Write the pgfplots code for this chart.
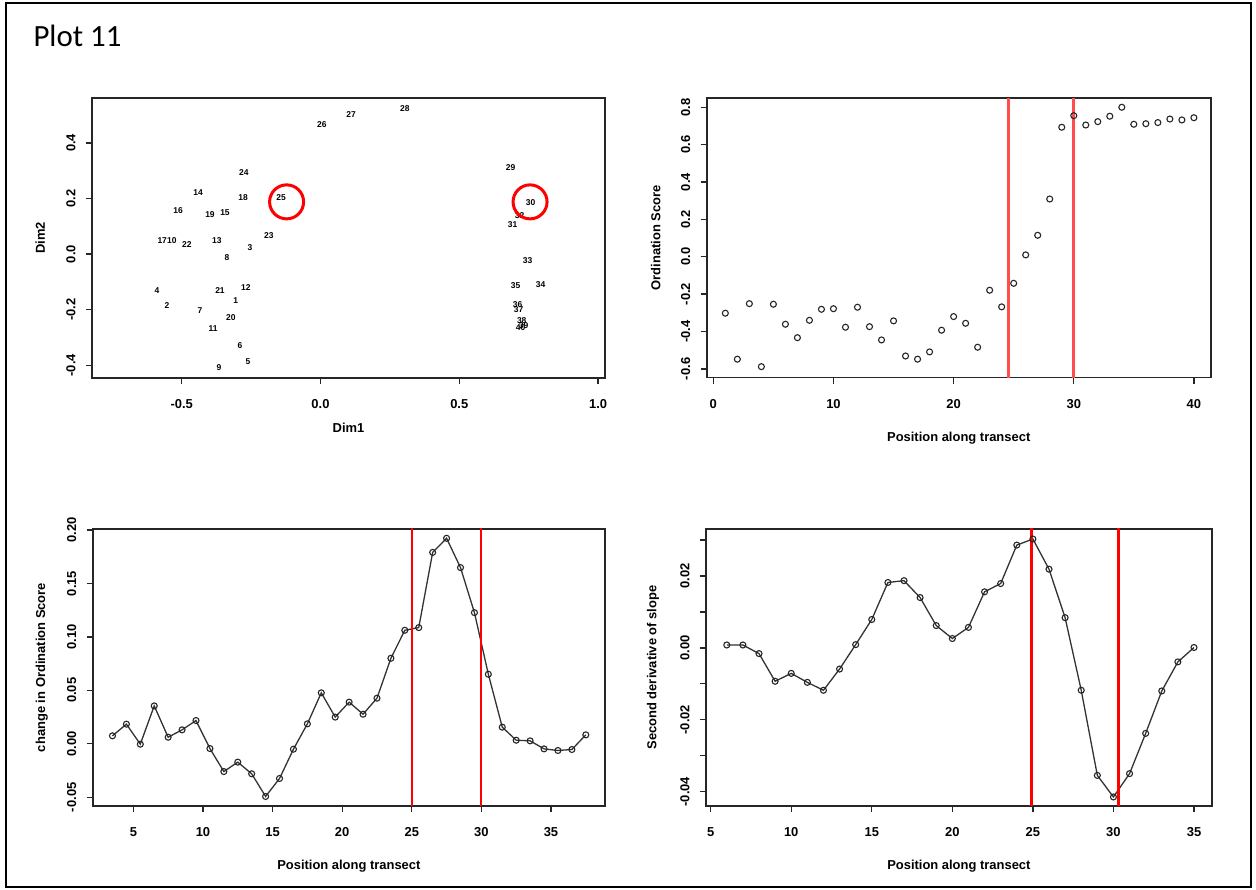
\documentclass[border=0pt]{standalone}
\usepackage{fontspec}
\setmainfont{Liberation Sans}
\newfontfamily\carlito{Carlito}
\usepackage{pgfplots}
\pgfplotsset{compat=1.18}

\pgfplotsset{
  rpanel/.style={
    scale only axis, anchor=south west,
    axis line style={black!85, line width=1.6bp},
    tick style={black!85, line width=1.3bp},
    tick align=outside, major tick length=6bp,
    xtick pos=bottom, ytick pos=left,
    scaled ticks=false,
    font=\fontsize{13}{15}\selectfont\bfseries,
    xticklabel style={yshift=-12bp},
    yticklabel style={xshift=-7bp, rotate=90, anchor=south},
    /pgf/number format/assume math mode=true,
  },
  rline/.style={black!80, line width=1.3bp, mark=o, mark size=3bp,
    mark options={line width=1.1bp, black!85}},
}

\pgfplotstableread{
x y lab
-0.276 0.292 24
-0.441 0.223 14
-0.279 0.205 18
-0.513 0.155 16
-0.398 0.144 19
-0.344 0.148 15
-0.570 0.050 17
-0.535 0.047 10
-0.481 0.036 22
-0.373 0.050 13
-0.186 0.065 23
-0.254 0.022 3
-0.337 -0.014 8
-0.589 -0.133 4
-0.362 -0.133 21
-0.269 -0.119 12
-0.305 -0.169 1
-0.553 -0.187 2
-0.434 -0.202 7
-0.323 -0.227 20
-0.387 -0.267 11
-0.290 -0.328 6
-0.261 -0.386 5
-0.366 -0.407 9
-0.142 0.205 25
0.005 0.468 26
0.110 0.501 27
0.304 0.523 28
0.685 0.310 29
0.757 0.184 30
0.717 0.137 32
0.692 0.105 31
0.746 -0.022 33
0.703 -0.112 35
0.793 -0.108 34
0.710 -0.180 36
0.714 -0.198 37
0.725 -0.241 38
0.732 -0.256 39
0.721 -0.263 40
}\dimtable

\pgfplotstableread{
x y
1 -0.302
2 -0.548
3 -0.251
4 -0.588
5 -0.254
6 -0.361
7 -0.433
8 -0.340
9 -0.281
10 -0.278
11 -0.377
12 -0.270
13 -0.374
14 -0.445
15 -0.343
16 -0.531
17 -0.548
18 -0.509
19 -0.393
20 -0.320
21 -0.356
22 -0.484
23 -0.179
24 -0.268
25 -0.142
26 0.010
27 0.115
28 0.309
29 0.693
30 0.755
31 0.705
32 0.723
33 0.752
34 0.800
35 0.709
36 0.712
37 0.718
38 0.737
39 0.732
40 0.744
}\ordtable

\pgfplotstableread{
x y
3.5 0.0075
4.5 0.0184
5.5 -0.0003
6.5 0.0355
7.5 0.0062
8.5 0.0131
9.5 0.0218
10.5 -0.0044
11.5 -0.0259
12.5 -0.0171
13.5 -0.0280
14.5 -0.0492
15.5 -0.0324
16.5 -0.0050
17.5 0.0187
18.5 0.0477
19.5 0.0250
20.5 0.0390
21.5 0.0277
22.5 0.0427
23.5 0.0800
24.5 0.1062
25.5 0.1087
26.5 0.1790
27.5 0.1922
28.5 0.1648
29.5 0.1227
30.5 0.0651
31.5 0.0156
32.5 0.0034
33.5 0.0028
34.5 -0.0047
35.5 -0.0062
36.5 -0.0053
37.5 0.0084
}\slopetable

\pgfplotstableread{
x y
6 0.0008
7 0.0008
8 -0.0016
9 -0.0093
10 -0.0071
11 -0.0096
12 -0.0118
13 -0.0059
14 0.0009
15 0.0079
16 0.0182
17 0.0187
18 0.0140
19 0.0062
20 0.0026
21 0.0057
22 0.0156
23 0.0179
24 0.0286
25 0.0303
26 0.0219
27 0.0084
28 -0.0118
29 -0.0355
30 -0.0415
31 -0.0350
32 -0.0238
33 -0.0120
34 -0.0039
35 0.0001
}\secondtable

\begin{document}
\begin{tikzpicture}[x=1bp,y=1bp]
\path[use as bounding box] (0,0) rectangle (1256,890);
\draw[line width=2.5bp] (6,3) rectangle (1251,887);
\node[anchor=base west, font=\fontsize{31}{36}\selectfont\carlito] at (30,843) {Plot 11};

% top left: ordination plot
\begin{axis}[rpanel, at={(92bp,512bp)}, width=513bp, height=280bp,
  xmin=-0.823, xmax=1.025, ymin=-0.446, ymax=0.562,
  xtick={-0.5,0,0.5,1}, xticklabels={-0.5,0.0,0.5,1.0},
  ytick={-0.4,-0.2,0,0.2,0.4}, yticklabels={-0.4,-0.2,0.0,0.2,0.4},
  xlabel={Dim1}, ylabel={Dim2},
  every axis x label/.style={at={(axis description cs:0.5,-0.179)}, anchor=center},
  every axis y label/.style={at={(axis description cs:-0.101,0.5)}, rotate=90, anchor=center},
]
\addplot[draw=none, mark=none, nodes near coords, point meta=explicit symbolic,
  every node near coord/.append style={anchor=center, inner sep=0pt,
    font=\fontsize{8.5}{9}\selectfont\bfseries}]
  table[meta=lab] {\dimtable};
\addplot[only marks, mark=o, mark size=17bp, red, mark options={line width=3bp}]
  coordinates {(-0.122,0.188) (0.755,0.188)};
\end{axis}

% top right: ordination score
\begin{axis}[rpanel, at={(706.7bp,512.3bp)}, width=504bp, height=279.4bp,
  xmin=-0.55, xmax=41.4, ymin=-0.647, ymax=0.848,
  xtick={0,10,20,30,40},
  ytick={-0.6,-0.4,-0.2,0,0.2,0.4,0.6,0.8},
  yticklabels={-0.6,-0.4,-0.2,0.0,0.2,0.4,0.6,0.8},
  xlabel={Position along transect}, ylabel={Ordination Score},
  every axis x label/.style={at={(axis description cs:0.5,-0.216)}, anchor=center},
  every axis y label/.style={at={(axis description cs:-0.101,0.5)}, rotate=90, anchor=center},
]
\addplot[only marks, mark=o, mark size=3bp, black!85, mark options={line width=1.1bp}]
  table {\ordtable};
\addplot[red!70!white, line width=3bp] coordinates {(24.6,-1) (24.6,1)};
\addplot[red!70!white, line width=3bp] coordinates {(30,-1) (30,1)};
\end{axis}

% bottom left: change in ordination score
\begin{axis}[rpanel, at={(92.7bp,84bp)}, width=512.3bp, height=277bp,
  xmin=2.08, xmax=38.88, ymin=-0.0581, ymax=0.2009,
  xtick={5,10,15,20,25,30,35},
  ytick={-0.05,0,0.05,0.10,0.15,0.20},
  yticklabels={-0.05,0.00,0.05,0.10,0.15,0.20},
  xlabel={Position along transect}, ylabel={change in Ordination Score},
  every axis x label/.style={at={(axis description cs:0.5,-0.217)}, anchor=center},
  every axis y label/.style={at={(axis description cs:-0.0995,0.5)}, rotate=90, anchor=center},
]
\addplot[rline] table {\slopetable};
\addplot[red, line width=2bp] coordinates {(25,-1) (25,1)};
\addplot[red, line width=2bp] coordinates {(30,-1) (30,1)};
\end{axis}

% bottom right: second derivative
\begin{axis}[rpanel, at={(706bp,84bp)}, width=505.7bp, height=277bp,
  xmin=4.71, xmax=36.1, ymin=-0.044, ymax=0.0331,
  xtick={5,10,15,20,25,30,35},
  ytick={-0.04,-0.03,-0.02,-0.01,0,0.01,0.02,0.03},
  yticklabels={-0.04,,-0.02,,0.00,,0.02,},
  xlabel={Position along transect}, ylabel={Second derivative of slope},
  every axis x label/.style={at={(axis description cs:0.5,-0.217)}, anchor=center},
  every axis y label/.style={at={(axis description cs:-0.105,0.5)}, rotate=90, anchor=center},
]
\addplot[rline] table {\secondtable};
\addplot[red, line width=3bp] coordinates {(24.9,-1) (24.9,1)};
\addplot[red, line width=3bp] coordinates {(30.3,-1) (30.3,1)};
\end{axis}
\end{tikzpicture}
\end{document}
